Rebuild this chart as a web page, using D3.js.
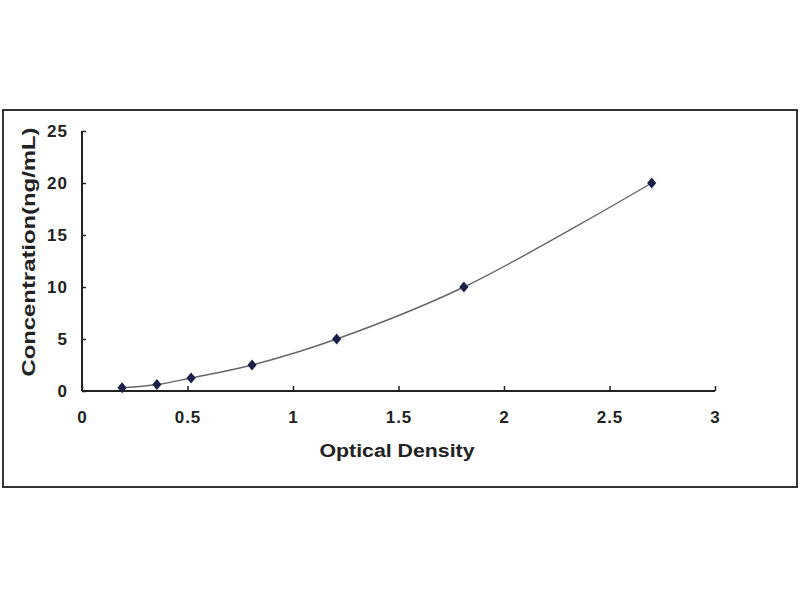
<!DOCTYPE html>
<html>
<head>
<meta charset="utf-8">
<script src="https://cdn.jsdelivr.net/npm/d3@7"></script>
<style>
html,body{margin:0;padding:0;background:#fff;}
svg{display:block;}
text{font-family:"Liberation Sans",Arial,sans-serif;font-weight:bold;fill:#222;}
</style>
</head>
<body>
<svg id="chart" width="800" height="600"></svg>
<script>
const odValues = [0.19, 0.355, 0.517, 0.806, 1.207, 1.81, 2.70];
const concValues = [0.312, 0.625, 1.25, 2.5, 5, 10, 20];
const xTicks = [0, 0.5, 1, 1.5, 2, 2.5, 3];
const yTicks = [0, 5, 10, 15, 20, 25];
const xTitle = "Optical Density";
const yTitle = "Concentration(ng/mL)";

const svg = d3.select("#chart");
// outer frame
svg.append("rect").attr("x", 3).attr("y", 110).attr("width", 794).attr("height", 377)
  .attr("fill", "#fff").attr("stroke", "#333").attr("stroke-width", 2);

const x = d3.scaleLinear().domain([0, 3]).range([82, 715]);
const y = d3.scaleLinear().domain([0, 25]).range([391, 131]);

const xAxis = svg.append("g").attr("transform", `translate(0,${y(0)})`)
  .call(d3.axisBottom(x).tickValues(xTicks).tickSize(-5).tickPadding(20)
    .tickFormat(d => String(d)));
const yAxis = svg.append("g").attr("transform", `translate(${x(0)},0)`)
  .call(d3.axisLeft(y).tickValues(yTicks).tickSize(-4).tickPadding(14)
    .tickFormat(d => String(d)));
[xAxis, yAxis].forEach(g => {
  g.select(".domain").attr("stroke", "#222").attr("stroke-width", 2);
  g.selectAll(".tick line").attr("stroke", "#222").attr("stroke-width", 1.5);
  g.selectAll(".tick text").attr("font-size", 17).attr("fill", "#222")
    .style("font-family", '"Liberation Sans",Arial,sans-serif').style("font-weight", "bold")
    .style("letter-spacing", "1px");
});
xAxis.select(".domain").attr("d", `M${x(0)},0H${x(3)}`);
yAxis.select(".domain").attr("d", `M0,${y(25)}V${y(0)}`);

const pts = odValues.map((v, i) => [v, concValues[i]]);
const line = d3.line().x(d => x(d[0])).y(d => y(d[1])).curve(d3.curveCatmullRom.alpha(0.5));
svg.append("path").datum(pts).attr("d", line).attr("fill", "none")
  .attr("stroke", "#666").attr("stroke-width", 1.4);

svg.selectAll(".pt").data(pts).enter().append("path").attr("class", "pt")
  .attr("transform", d => `translate(${x(d[0])},${y(d[1])}) scale(1.35,0.95)`)
  .attr("d", d3.symbol().type(d3.symbolDiamond).size(40))
  .attr("fill", "#1b1f4a");

svg.append("text").attr("x", 397).attr("y", 457).attr("text-anchor", "middle")
  .attr("font-size", 18).attr("textLength", 155).attr("lengthAdjust", "spacingAndGlyphs")
  .text(xTitle);
svg.append("text").attr("transform", "translate(35,252) rotate(-90)")
  .attr("text-anchor", "middle").attr("font-size", 18)
  .attr("textLength", 249).attr("lengthAdjust", "spacingAndGlyphs").text(yTitle);
</script>
</body>
</html>
